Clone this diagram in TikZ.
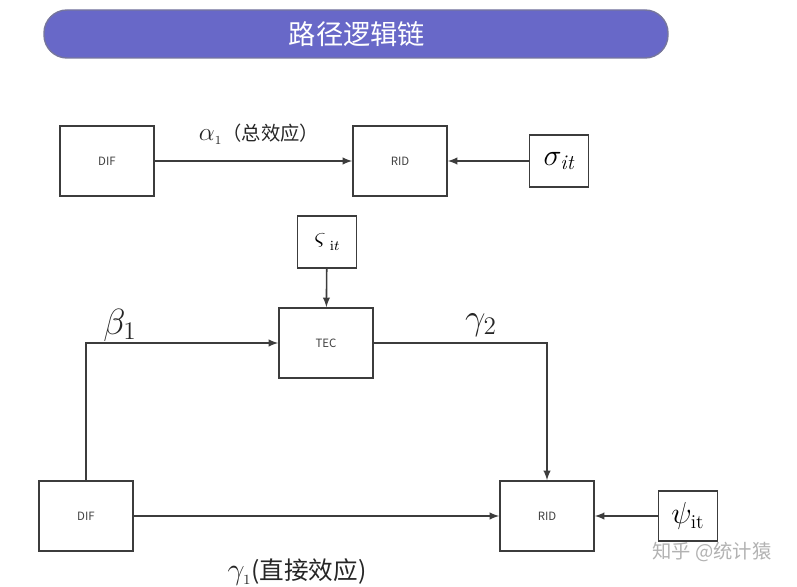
\documentclass[tikz,border=0pt]{standalone}
\usepackage{fontspec}
\setsansfont{Noto Sans CJK SC}
\newfontfamily\cjk{Noto Sans CJK SC}
\definecolor{banner}{RGB}{104,104,200}
\definecolor{boxline}{RGB}{60,60,60}

\begin{document}
\begin{tikzpicture}[x=0.02cm,y=-0.02cm,
  box/.style={draw=boxline, line width=0.9pt, minimum width=1.88cm, minimum height=1.4cm, inner sep=0pt, font=\sffamily\fontsize{6.5}{7}\selectfont, text=black!75},
  small/.style={draw=boxline, line width=0.9pt, minimum width=1.18cm, minimum height=1.03cm, inner sep=0pt},
  link/.style={boxline, line width=0.9pt, -latex},
  lab/.style={inner sep=0pt, text=black!85}
]
\useasboundingbox (0,0) rectangle (797,587);

\draw[gray!60!banner, line width=0.8pt, fill=banner, rounded corners=0.46cm] (44,10) rectangle (668,58);
\node[text=white, font=\cjk\fontsize{15.5}{17}\selectfont] (title) at (357,34) {路径逻辑链};

\node[box] (difA) at (107,161) {DIF};
\node[box] (ridA) at (400,161) {RID};
\node[small] (sigma) at (559,161) {\raisebox{-5pt}{\fontsize{17}{18}\selectfont$\sigma_{\mathit{it}}$}};
\draw[link] (difA) -- (ridA);
\draw[link] (sigma) -- (ridA);
\node[lab] (alab) at (259,134) {\fontsize{15}{16}\selectfont$\alpha_{\scriptscriptstyle 1}$\cjk\fontsize{11}{12}\selectfont（总效应）};

\node[small, minimum height=1.05cm] (vsig) at (327,242) {\fontsize{15}{16}\selectfont$\varsigma$\,\raisebox{-3pt}{\fontsize{8}{9}\selectfont$\mathrm{i}t$}};
\node[box] (tec) at (326,343) {TEC};
\draw[link] (vsig) -- (tec);

\node[box] (difB) at (86,516) {DIF};
\node[box] (ridB) at (547,516) {RID};
\node[small, minimum height=1cm] (psi) at (688,516) {\raisebox{-6pt}{\fontsize{16}{17}\selectfont$\psi_{\mathrm{it}}$}};

\draw[link] (difB.north) |- (tec.west);
\draw[link] (tec.east) -| (ridB.north);
\draw[link] (difB) -- (ridB);
\draw[link] (psi) -- (ridB);

\node[lab] (b1) at (120,325) {\fontsize{21}{22}\selectfont$\beta_1$};
\node[lab] (g2) at (481,325) {\fontsize{21}{22}\selectfont$\gamma_2$};
\node[lab] (g1) at (297,572) {\fontsize{16}{17}\selectfont$\gamma_{\scriptscriptstyle 1}$\cjk\fontsize{14}{15}\selectfont(直接效应)};

\node[text=black!30, font=\cjk\fontsize{11}{12}\selectfont] (mark) at (712,552) {知乎 @统计猿};
\end{tikzpicture}
\end{document}
